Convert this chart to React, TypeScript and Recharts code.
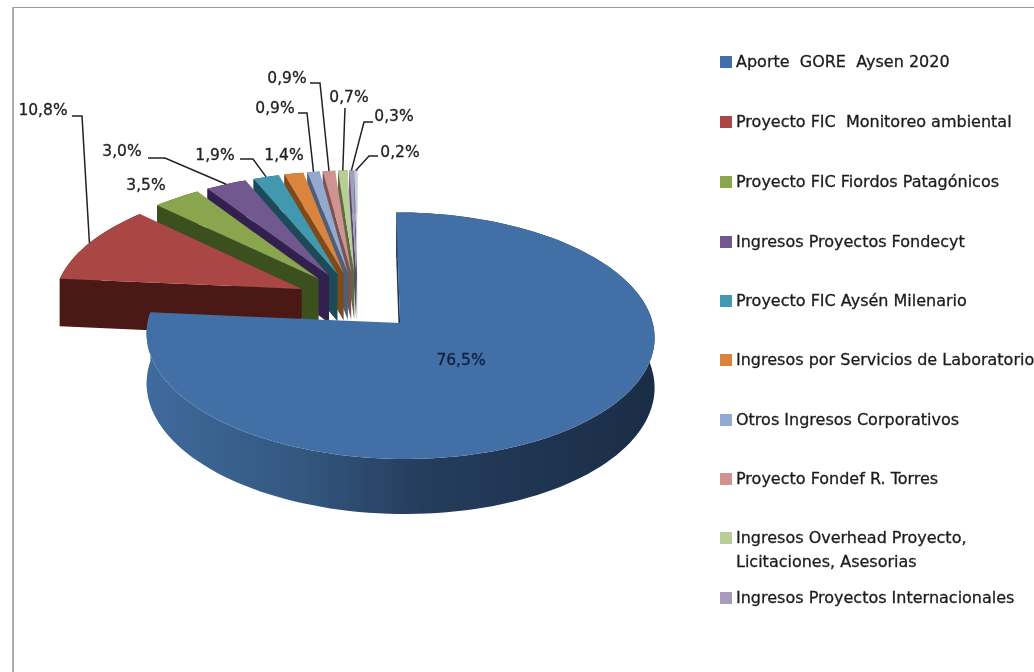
import { PieChart, Pie, Legend } from 'recharts';

const legendNames = [
  'Aporte  GORE  Aysen 2020',
  'Proyecto FIC  Monitoreo ambiental',
  'Proyecto FIC Fiordos Patagónicos',
  'Ingresos Proyectos Fondecyt',
  'Proyecto FIC Aysén Milenario',
  'Ingresos por Servicios de Laboratorio',
  'Otros Ingresos Corporativos',
  'Proyecto Fondef R. Torres',
  'Ingresos Overhead Proyecto,|Licitaciones, Asesorias',
  'Ingresos Proyectos Internacionales',
  '',
];
const shares = [76.5, 10.8, 3.5, 3.0, 1.9, 1.4, 0.9, 0.9, 0.7, 0.3, 0.2];
const shareLabels = ['76,5%', '10,8%', '3,5%', '3,0%', '1,9%', '1,4%', '0,9%', '0,9%', '0,7%', '0,3%', '0,2%'];
const topColors = ['#4270a6', '#aa4643', '#89a54e', '#71588f', '#4198af', '#db843d', '#93a9cf', '#d19392', '#b9cd96', '#a99bbd', '#c3d0e4'];
const sideColors = ['#1f3654', '#4a1815', '#3b4f1f', '#33204f', '#1d4a58', '#7f4a1b', '#4d6078', '#7a5350', '#5e6b44', '#55486a', '#5a6a70'];

// drawn back to front, the big slice last
const table = shares
  .map((value, i) => ({ name: legendNames[i], value, fill: topColors[i], side: sideColors[i], order: i }))
  .reverse();

// where each percentage sits, and the elbow of its leader line (same order as shares)
const labelSpots: { x: number; y: number; from?: [number, number]; elbow?: [number, number] }[] = [
  { x: 461, y: 360 },
  { x: 43, y: 110, from: [72, 116], elbow: [82, 116] },
  { x: 146, y: 185 },
  { x: 122, y: 151, from: [148, 158], elbow: [165, 158] },
  { x: 215, y: 155, from: [240, 159], elbow: [253, 159] },
  { x: 284, y: 155 },
  { x: 275, y: 108, from: [298, 113], elbow: [307, 113] },
  { x: 287, y: 78, from: [310, 83], elbow: [320, 83] },
  { x: 349, y: 97, from: [345, 108], elbow: [345, 108] },
  { x: 394, y: 116, from: [373, 122], elbow: [364, 122] },
  { x: 400, y: 152, from: [378, 156], elbow: [369, 156] },
];
const legendTops = [62, 122, 182, 242, 301, 360, 420, 479, 538, 598];

const FONT = '"DejaVu Sans", sans-serif';
const TILT = 0.474; // squash of the pie
const PERSPECTIVE = 0.1;
const EXPLODE = 0.25;
const DEPTH = 48.5;

const rad = (d: number) => (d * Math.PI) / 180;

// a: clockwise angle from 12 o'clock, mid: slice bisector, r: 0..1 along radius
function project(cx: number, cy: number, R: number, mid: number, a: number, r: number, down = 0) {
  const u = EXPLODE * Math.sin(rad(mid)) + r * Math.sin(rad(a));
  const v = -EXPLODE * Math.cos(rad(mid)) - r * Math.cos(rad(a));
  const s = 1 / (1 - PERSPECTIVE * v);
  return { x: cx + R * u * s, y: cy + R * TILT * v * s + down * s };
}

function slicePath(pts: { x: number; y: number }[]) {
  return pts.map((p, i) => `${i ? 'L' : 'M'}${p.x.toFixed(1)} ${p.y.toFixed(1)}`).join(' ') + ' Z';
}

function Slice3D(props: any) {
  const { cx, cy, outerRadius: R, startAngle, endAngle, fill, payload } = props;
  const a0 = Math.min(90 - startAngle, 90 - endAngle);
  const a1 = Math.max(90 - startAngle, 90 - endAngle);
  const mid = (a0 + a1) / 2;
  const steps = Math.max(2, Math.ceil((a1 - a0) / 2));
  const rim: number[] = [];
  for (let i = 0; i <= steps; i++) rim.push(a0 + ((a1 - a0) * i) / steps);

  const P = (a: number, r: number, d = 0) => project(cx, cy, R, mid, a, r, d);
  const top = [P(a0, 0), ...rim.map((a) => P(a, 1))];
  const outerWall = [...rim.map((a) => P(a, 1)), ...[...rim].reverse().map((a) => P(a, 1, DEPTH))];
  const startWall = [P(a0, 0), P(a0, 1), P(a0, 1, DEPTH), P(a0, 0, DEPTH)];
  const isMain = payload.order === 0;

  return (
    <g>
      {isMain && (
        <defs>
          <linearGradient id="mainWall" gradientUnits="userSpaceOnUse" x1="150" y1="0" x2="654" y2="0">
            <stop offset="0" stopColor="#3f6a9c" />
            <stop offset="0.3" stopColor="#33577f" />
            <stop offset="0.55" stopColor="#253c5c" />
            <stop offset="1" stopColor="#1a2d47" />
          </linearGradient>
        </defs>
      )}
      <path d={slicePath(startWall)} fill={payload.side} />
      <path d={slicePath(outerWall)} fill={isMain ? 'url(#mainWall)' : payload.side} />
      <path d={slicePath(top)} fill={fill} />
    </g>
  );
}

function SliceLabel(props: any) {
  const { cx, cy, outerRadius: R, midAngle, payload } = props;
  const i = payload.order;
  const spot = labelSpots[i];
  const a = 90 - midAngle;
  const end = project(cx, cy, R, a, a, 1);
  return (
    <g>
      {spot.from && spot.elbow && (
        <polyline
          points={`${spot.from.join(',')} ${spot.elbow.join(',')} ${end.x},${end.y}`}
          fill="none"
          stroke="#222"
          strokeWidth={1.5}
        />
      )}
      <text
        x={spot.x}
        y={spot.y}
        textAnchor="middle"
        dominantBaseline="central"
        fontFamily={FONT}
        fontSize={15.5}
        stroke={i === 0 ? '#0f1f40' : '#222'}
        strokeWidth={0.3}
        fill={i === 0 ? '#0f1f40' : '#222'}
      >
        {shareLabels[i]}
      </text>
    </g>
  );
}

function LegendBox({ payload }: any) {
  const items = [...(payload ?? [])]
    .sort((p: any, q: any) => p.payload.order - q.payload.order)
    .filter((p: any) => p.value);
  return (
    <div
      style={{
        position: 'relative',
        width: 1034,
        height: 672,
        fontFamily: FONT,
        fontSize: 16,
        color: '#1c1c1c',
        WebkitTextStroke: '0.3px #1c1c1c',
      }}
    >
      {items.map((item: any, i: number) => {
        const [first, second] = item.value.split('|');
        return (
          <div key={i} style={{ position: 'absolute', left: 720, top: legendTops[i] - 10, whiteSpace: 'pre' }}>
            <span
              style={{ position: 'absolute', left: 0, top: 4, width: 12, height: 12, background: item.color }}
            />
            <div style={{ marginLeft: 16, lineHeight: '20px' }}>{first}</div>
            {second && <div style={{ marginLeft: 16, lineHeight: '24px', marginTop: 2 }}>{second}</div>}
          </div>
        );
      })}
    </div>
  );
}

export default function App() {
  return (
    <div style={{ position: 'absolute', left: 0, top: 0, width: 1034, height: 672, background: '#fff', overflow: 'hidden' }}>
      <div style={{ position: 'absolute', left: 12, top: 7, width: 1022, height: 1, background: '#9a9a9a' }} />
      <div style={{ position: 'absolute', left: 12, top: 7, width: 2, height: 665, background: '#adadad' }} />
      <div style={{ position: 'absolute', left: 0, top: 0, filter: 'blur(0.45px)' }}>
        <PieChart width={1034} height={672} margin={{ top: 0, right: 0, bottom: 0, left: 0 }}>
          <Pie
            data={table}
            dataKey="value"
            nameKey="name"
            cx={357.5}
            cy={301}
            outerRadius={248}
            startAngle={90}
            endAngle={450}
            stroke="none"
            shape={Slice3D}
            label={SliceLabel}
            labelLine={false}
            isAnimationActive={false}
          />
          <Legend
            content={LegendBox}
            itemSorter={null}
            wrapperStyle={{ position: 'absolute', left: 0, top: 0, width: 1034, height: 672 }}
          />
        </PieChart>
      </div>
    </div>
  );
}
